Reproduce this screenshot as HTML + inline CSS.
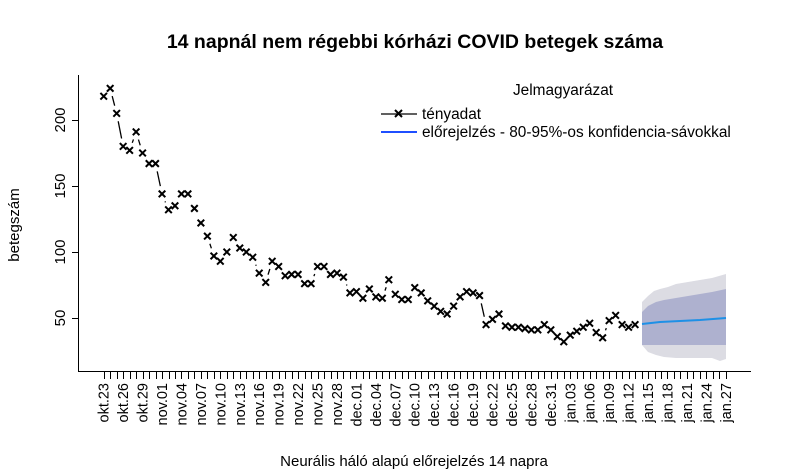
<!DOCTYPE html>
<html><head><meta charset="utf-8"><style>
html,body{margin:0;padding:0;background:#fff;}
svg{display:block;font-family:"Liberation Sans",Arial,sans-serif;}
</style></head><body>
<svg id="s" width="792" height="469" viewBox="0 0 792 469" xmlns="http://www.w3.org/2000/svg">
<rect width="792" height="469" fill="#fff"/>
<text x="415" y="48" text-anchor="middle" font-size="19.5" font-weight="bold">14 napnál nem régebbi kórházi COVID betegek száma</text>
<text x="414" y="466" text-anchor="middle" font-size="15">Neurális háló alapú előrejelzés 14 napra</text>
<text transform="translate(19,225) rotate(-90)" text-anchor="middle" font-size="15">betegszám</text>
<polygon fill="#dcdce3" points="642,302 648,296 654,291 660,289 668,287 676,284 688,282 700,280 712,278 726,274 726,359 720,361 712,358 700,358 688,358 676,358 664,357 656,355 648,352 642,345"/>
<polygon fill="#aeb1cf" points="642,312 648,306 656,302 664,300 676,298 688,296 700,294 712,292 726,289 726,345 642,345"/>
<polyline fill="none" stroke="#1e90e6" stroke-width="2" points="642,324 660,322 680,321 700,320 726,318"/>
<g stroke="#000" stroke-width="1" fill="none">
<line x1="78.5" y1="75" x2="78.5" y2="372"/>
<line x1="78" y1="371.5" x2="751" y2="371.5"/>
<line x1="72" y1="120.5" x2="78" y2="120.5"/>
<line x1="72" y1="186.5" x2="78" y2="186.5"/>
<line x1="72" y1="252.5" x2="78" y2="252.5"/>
<line x1="72" y1="318.5" x2="78" y2="318.5"/>
</g>
<g font-size="15" text-anchor="middle">
<text transform="translate(65,120) rotate(-90)">200</text>
<text transform="translate(65,186) rotate(-90)">150</text>
<text transform="translate(65,252) rotate(-90)">100</text>
<text transform="translate(65,318) rotate(-90)">50</text>
</g>
<g id="ticks" stroke="#000" stroke-width="1"></g>
<g id="tl" font-size="14.5" text-anchor="end"></g>
<g id="data" stroke="#000" stroke-width="1.3" fill="none"></g>
<g id="pts" stroke="#000" stroke-width="2" fill="none"></g>
<text x="563" y="95" text-anchor="middle" font-size="15.4">Jelmagyarázat</text>
<line x1="381" y1="114" x2="417" y2="114" stroke="#000" stroke-width="1.3"/>
<path d="M395,110 l7,7 M402,110 l-7,7" stroke="#000" stroke-width="2"/>
<text x="422" y="119" font-size="15.4">tényadat</text>
<line x1="381" y1="132" x2="417" y2="132" stroke="#1f4fff" stroke-width="2"/>
<text x="422" y="137" font-size="15.4">előrejelzés - 80-95%-os konfidencia-sávokkal</text>
</svg>
<script>
var NS="http://www.w3.org/2000/svg";
function el(n,a,p){var e=document.createElementNS(NS,n);for(var k in a)e.setAttribute(k,a[k]);p.appendChild(e);return e;}
var x0=103.7,dx=6.48;
var tk=document.getElementById("ticks"),tl=document.getElementById("tl");
for(var d=0;d<=96;d++){var x=Math.round(x0+d*dx)+0.5;el("line",{x1:x,y1:372,x2:x,y2:379},tk);}
var labs=["okt.23","okt.26","okt.29","nov.01","nov.04","nov.07","nov.10","nov.13","nov.16","nov.19","nov.22","nov.25","nov.28","dec.01","dec.04","dec.07","dec.10","dec.13","dec.16","dec.19","dec.22","dec.25","dec.28","dec.31","jan.03","jan.06","jan.09","jan.12","jan.15","jan.18","jan.21","jan.24","jan.27"];
labs.forEach(function(s,i){var x=x0+i*3*dx+5;var t=el("text",{transform:"translate("+x+",383) rotate(-90)"},tl);t.textContent=s;});
var v=[218,224,205,180,177,191,175,167,167,144,132,135,144,144,133,122,112,97,93,100,111,103,100,96,84,77,93,89,82,83,83,76,76,89,89,83,84,81,69,70,65,72,66,65,79,68,64,64,73,69,63,59,55,53,59,66,70,69,67,45,49,53,44,43,43,42,41,41,45,41,36,32,37,40,43,46,39,35,48,52,45,43,45];
var P=v.map(function(y,i){return [x0+i*dx,318-(y-50)*1.32];});
var g=document.getElementById("data"),pg=document.getElementById("pts");
for(var i=0;i<P.length-1;i++){var a=P[i],b=P[i+1],ux=b[0]-a[0],uy=b[1]-a[1],L=Math.hypot(ux,uy),r=8;
 if(L>2*r+1){ux/=L;uy/=L;el("line",{x1:a[0]+ux*r,y1:a[1]+uy*r,x2:b[0]-ux*r,y2:b[1]-uy*r},g);}}
P.forEach(function(p){var s=3.3;el("path",{d:"M"+(p[0]-s)+","+(p[1]-s)+"L"+(p[0]+s)+","+(p[1]+s)+"M"+(p[0]+s)+","+(p[1]-s)+"L"+(p[0]-s)+","+(p[1]+s)},pg);});
</script>
</body></html>
